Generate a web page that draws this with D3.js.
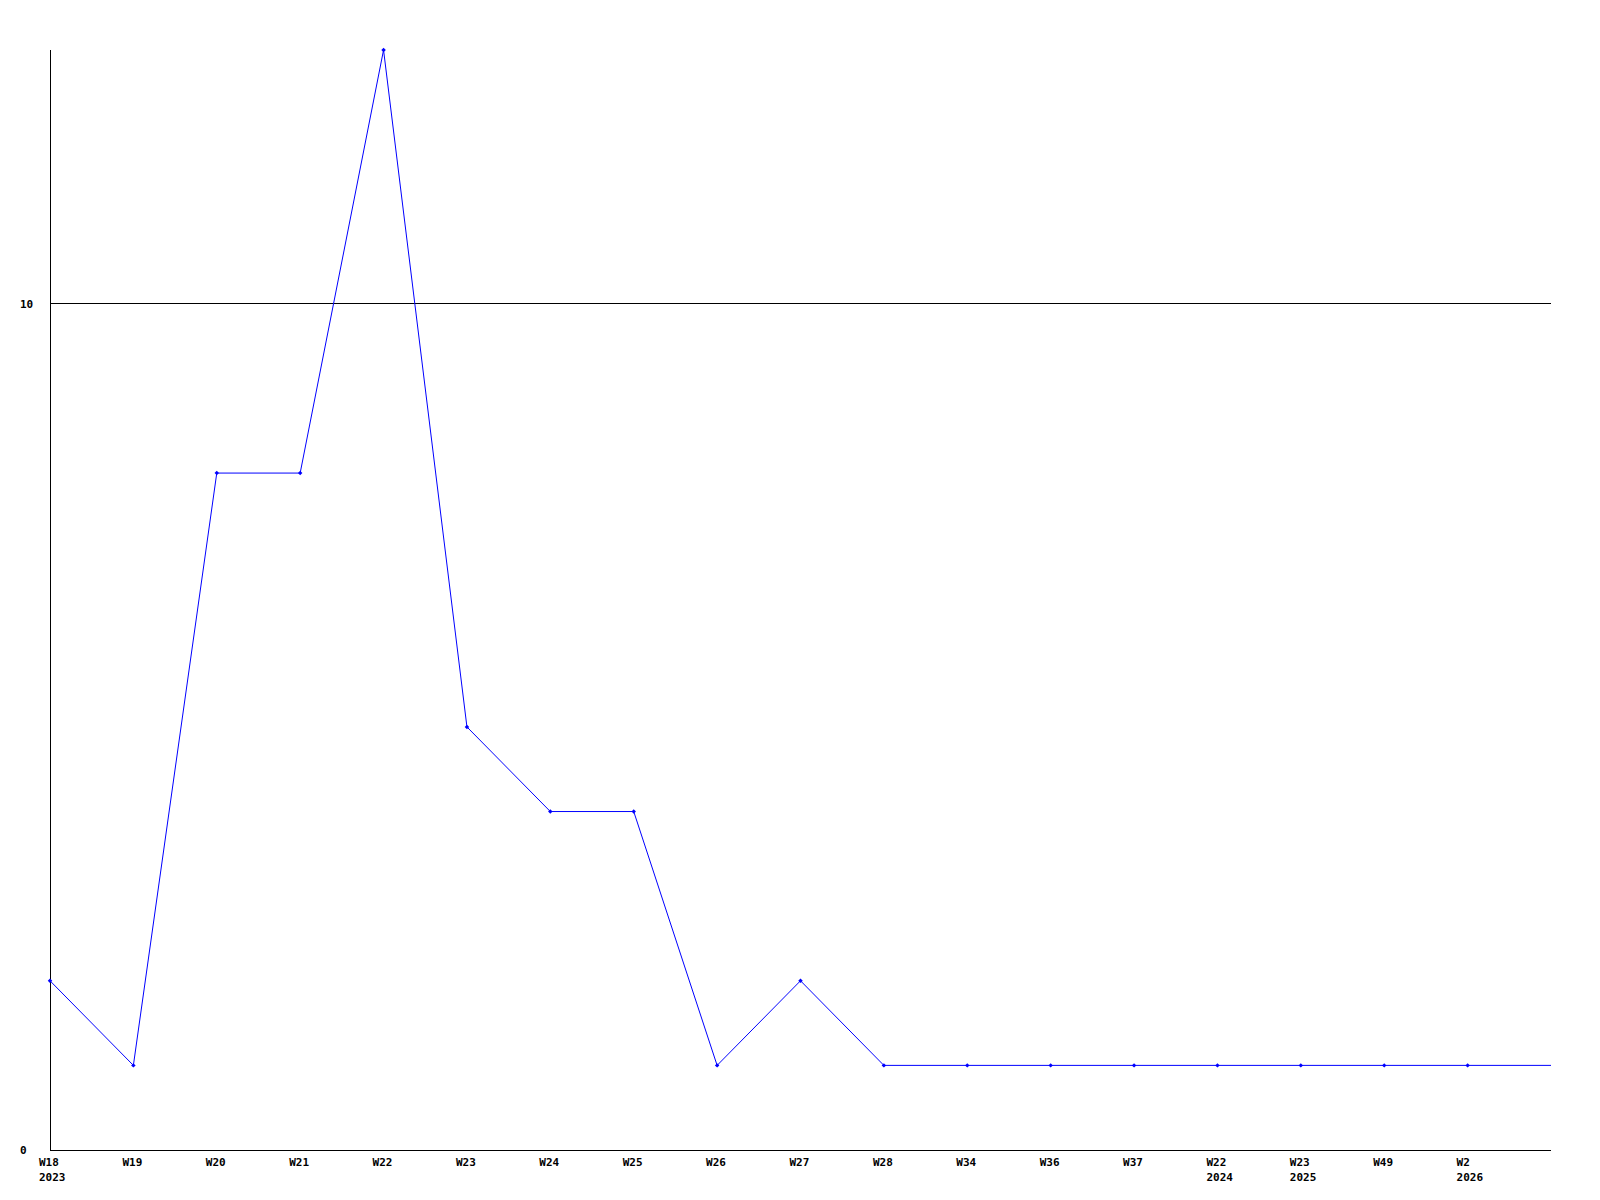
<!DOCTYPE html>
<html>
<head>
<meta charset="utf-8">
<script src="https://cdn.jsdelivr.net/npm/d3@7"></script>
<style>
  body { margin: 0; background: #fff; }
  text { font-family: "DejaVu Sans Mono", monospace; font-weight: bold; font-size: 11px; fill: #000; }
</style>
</head>
<body>
<svg id="chart"></svg>
<script>
// week labels and the year shown under the first week of each year
const weeks = ["W18", "W19", "W20", "W21", "W22", "W23", "W24", "W25", "W26", "W27", "W28", "W34", "W36", "W37", "W22", "W23", "W49", "W2"];
const years = ["2023", "", "", "", "", "", "", "", "", "", "", "", "", "", "2024", "2025", "", "2026"];
const counts = [2, 1, 8, 8, 13, 5, 4, 4, 1, 2, 1, 1, 1, 1, 1, 1, 1, 1];
const yTicks = [0, 10];

const width = 1600, height = 1200;
const margin = { top: 50, right: 49, bottom: 50, left: 50 };

const svg = d3.select("#chart")
    .attr("width", width)
    .attr("height", height);

// one extra slot on the right, the line runs on to the edge
const x = d3.scaleLinear()
    .domain([0, weeks.length])
    .range([margin.left, width - margin.right]);

const y = d3.scaleLinear()
    .domain([0, d3.max(counts)])
    .range([height - margin.bottom, margin.top]);

// gridline at 10
svg.selectAll(".grid")
    .data(yTicks.filter(d => d > 0))
    .enter().append("line")
    .attr("x1", x.range()[0])
    .attr("x2", x.range()[1])
    .attr("y1", d => Math.round(y(d)) - 0.5)
    .attr("y2", d => Math.round(y(d)) - 0.5)
    .attr("stroke", "#000")
    .attr("stroke-width", 1);

// axes
svg.append("line")
    .attr("x1", x.range()[0] + 0.5).attr("x2", x.range()[0] + 0.5)
    .attr("y1", y.range()[1]).attr("y2", y.range()[0])
    .attr("stroke", "#000");

svg.append("line")
    .attr("x1", x.range()[0]).attr("x2", x.range()[1])
    .attr("y1", y.range()[0] + 0.5).attr("y2", y.range()[0] + 0.5)
    .attr("stroke", "#000");

// y labels
svg.selectAll(".ylab")
    .data(yTicks)
    .enter().append("text")
    .attr("x", 20)
    .attr("y", d => y(d))
    .attr("dy", "0.35em")
    .text(d => d);

// x labels
const xl = svg.selectAll(".xlab")
    .data(weeks)
    .enter().append("g")
    .attr("transform", (d, i) => `translate(${x(i) - 11},0)`);

xl.append("text")
    .attr("y", 1166)
    .text(d => d);

xl.append("text")
    .attr("y", 1181)
    .text((d, i) => years[i]);

// line, held flat to the right edge after the last week
const pts = counts.map((c, i) => [x(i), y(c)]);
pts.push([x.range()[1], y(counts[counts.length - 1])]);

svg.append("path")
    .datum(pts)
    .attr("fill", "none")
    .attr("stroke", "#0000ff")
    .attr("stroke-width", 1)
    .attr("d", d3.line());

// small square markers turned 45 degrees
svg.selectAll(".dot")
    .data(counts)
    .enter().append("path")
    .attr("d", d3.symbol(d3.symbolSquare, 10))
    .attr("transform", (d, i) => `translate(${x(i)},${y(d)}) rotate(45)`)
    .attr("fill", "#0000ff");
</script>
</body>
</html>
